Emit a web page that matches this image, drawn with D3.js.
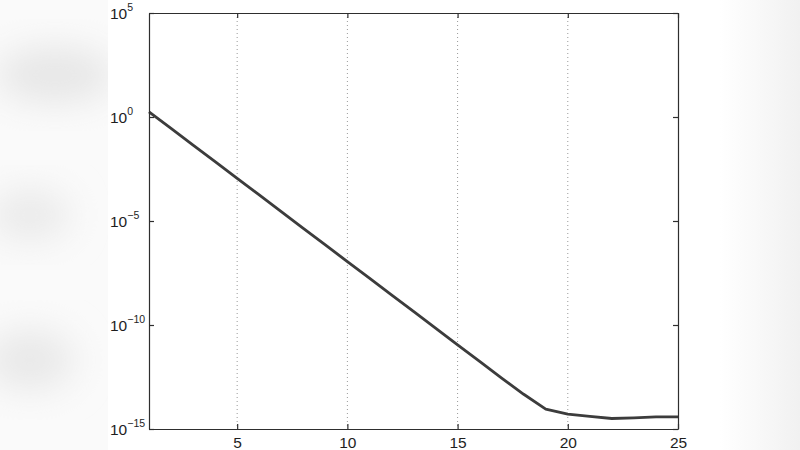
<!DOCTYPE html>
<html>
<head>
<meta charset="utf-8">
<script src="https://cdn.jsdelivr.net/npm/d3@7"></script>
<style>
  html, body { margin: 0; padding: 0; background: #fff; }
  svg { display: block; }
  text { font-family: "Liberation Sans", Arial, Helvetica, sans-serif; fill: #1e1e1e; }
</style>
</head>
<body>
<svg id="chart" width="800" height="450"></svg>
<script>
// ---- data ----
const iterations = [1, 2, 3, 4, 5, 6, 7, 8, 9, 10, 11, 12, 13, 14, 15, 16, 17, 18, 19, 20, 21, 22, 23, 24, 25];
const errorValues = [1.78e0, 2.82e-1, 4.47e-2, 7.08e-3, 1.12e-3, 1.78e-4, 2.82e-5, 4.47e-6, 7.08e-7, 1.12e-7,
                     1.78e-8, 2.82e-9, 4.47e-10, 7.08e-11, 1.12e-11, 1.78e-12, 2.82e-13, 4.68e-14, 9.1e-15, 5.2e-15,
                     4.0e-15, 3.2e-15, 3.4e-15, 3.8e-15, 3.8e-15];
const xTicks = [5, 10, 15, 20, 25];
const yTickExponents = [5, 0, -5, -10, -15];

// ---- layout ----
const svg = d3.select("#chart");
const W = 800, H = 450;
const mLeft = 149, mRight = 678, mTop = 13, mBottom = 429;

// background: faint blurred patches on the left, soft gradient on the right
const defs = svg.append("defs");
const blur = defs.append("filter").attr("id", "blur").attr("x", "-50%").attr("y", "-50%").attr("width", "200%").attr("height", "200%");
blur.append("feGaussianBlur").attr("stdDeviation", 18);
defs.append("clipPath").attr("id", "leftClip").append("rect").attr("x", 0).attr("y", 0).attr("width", 108).attr("height", H);
const grad = defs.append("linearGradient").attr("id", "rightGrad").attr("x1", "0").attr("x2", "1").attr("y1", "0").attr("y2", "0");
grad.append("stop").attr("offset", "0").attr("stop-color", "#ffffff");
grad.append("stop").attr("offset", "1").attr("stop-color", "#f1f1f1");

svg.append("rect").attr("width", W).attr("height", H).attr("fill", "#ffffff");
const bg = svg.append("g").attr("clip-path", "url(#leftClip)");
bg.append("rect").attr("x", 0).attr("y", 0).attr("width", 108).attr("height", H).attr("fill", "#fafafa");
const blobs = [
  {cx: 55, cy: 75, rx: 60, ry: 28, c: "#e6e6e6"},
  {cx: 30, cy: 215, rx: 40, ry: 25, c: "#e9e9e9"},
  {cx: 30, cy: 360, rx: 45, ry: 30, c: "#e8e8e8"}
];
bg.selectAll("ellipse").data(blobs).join("ellipse")
  .attr("cx", d => d.cx).attr("cy", d => d.cy).attr("rx", d => d.rx).attr("ry", d => d.ry)
  .attr("fill", d => d.c).attr("filter", "url(#blur)");
svg.append("rect").attr("x", 720).attr("y", 0).attr("width", 80).attr("height", H).attr("fill", "url(#rightGrad)");

// ---- scales ----
const x = d3.scaleLinear().domain([1, 25]).range([mLeft, mRight]);
const y = d3.scaleLog().domain([1e-15, 1e5]).range([mBottom, mTop]);
const yTicks = yTickExponents.map(e => Math.pow(10, e));

// grid (vertical dotted)
svg.append("g").selectAll("line").data(xTicks.filter(t => t < 25)).join("line")
  .attr("x1", d => x(d)).attr("x2", d => x(d)).attr("y1", mTop).attr("y2", mBottom)
  .attr("stroke", "#9a9a9a").attr("stroke-width", 1).attr("stroke-dasharray", "1,3");

// line
const line = d3.line().x((d, i) => x(iterations[i])).y(d => y(d));
svg.append("path").datum(errorValues)
  .attr("d", line).attr("fill", "none")
  .attr("stroke", "#3c3c3c").attr("stroke-width", 2.8).attr("stroke-linejoin", "round");

// axes
const axisColor = "#2e2e2e";
function styleAxis(g) {
  g.selectAll("path.domain").attr("stroke", axisColor).attr("stroke-width", 1.2);
  g.selectAll(".tick line").attr("stroke", axisColor).attr("stroke-width", 1.2);
}

const xb = svg.append("g").attr("transform", `translate(0,${mBottom})`)
  .call(d3.axisBottom(x).tickValues(xTicks).tickSizeInner(-5).tickSizeOuter(0).tickPadding(8).tickFormat(d3.format("d")));
styleAxis(xb);
xb.attr("font-family", null).attr("font-size", null);
xb.selectAll("text").attr("font-size", "15.5px").attr("fill", "#1e1e1e");

const xt = svg.append("g").attr("transform", `translate(0,${mTop})`)
  .call(d3.axisTop(x).tickValues(xTicks).tickSizeInner(-5).tickSizeOuter(0).tickFormat(""));
styleAxis(xt);

const yl = svg.append("g").attr("transform", `translate(${mLeft},0)`)
  .call(d3.axisLeft(y).tickValues(yTicks).tickSizeInner(-5).tickSizeOuter(0).tickFormat(""));
styleAxis(yl);

const yr = svg.append("g").attr("transform", `translate(${mRight},0)`)
  .call(d3.axisRight(y).tickValues(yTicks).tickSizeInner(-5).tickSizeOuter(0).tickFormat(""));
styleAxis(yr);

// y tick labels as 10^n
const labels = svg.append("g");
yTickExponents.forEach(e => {
  const ty = y(Math.pow(10, e));
  const t = labels.append("text").attr("x", 110).attr("y", ty + 6).attr("font-size", "15.5px");
  t.append("tspan").text("10");
  t.append("tspan").attr("font-size", "10.5px").attr("dy", -8)
    .text(e < 0 ? "\u2212" + Math.abs(e) : String(e));
});
</script>
</body>
</html>
